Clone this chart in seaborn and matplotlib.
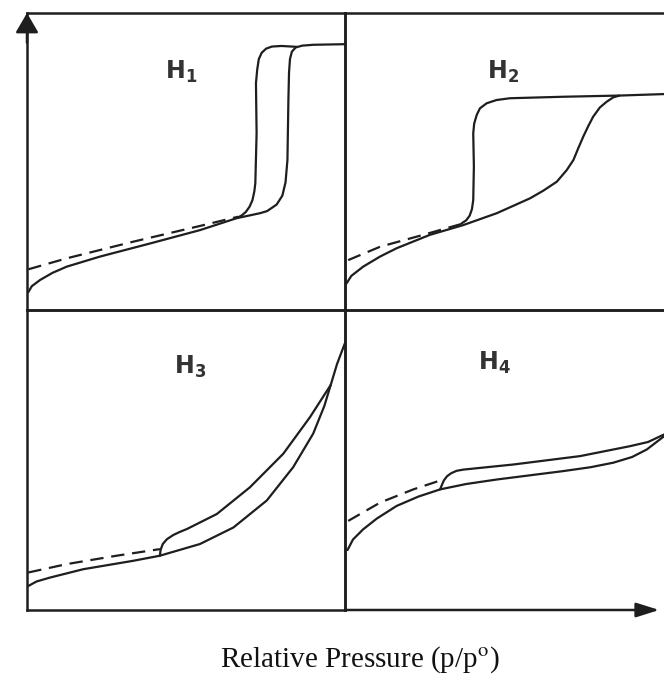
import matplotlib
matplotlib.use("Agg")
import matplotlib.pyplot as plt
import seaborn as sns

# IUPAC hysteresis loop types
# x = relative pressure (0-1), y = amount adsorbed (arbitrary, 0-1)

# H1
h1_ads_x = [0.004, 0.015, 0.041, 0.080, 0.125, 0.230, 0.387, 0.544, 0.659, 0.733,
            0.755, 0.785, 0.803, 0.813, 0.819, 0.822, 0.824, 0.827, 0.833, 0.845,
            0.865, 0.900, 1.000]
h1_ads_y = [0.060, 0.080, 0.101, 0.125, 0.146, 0.180, 0.224, 0.269, 0.309, 0.326,
            0.333, 0.355, 0.385, 0.430, 0.505, 0.707, 0.800, 0.845, 0.870, 0.884,
            0.890, 0.893, 0.895]
h1_des_x = [0.850, 0.800, 0.770, 0.752, 0.738, 0.729, 0.724, 0.720, 0.722, 0.718,
            0.715, 0.709, 0.700, 0.688, 0.676, 0.664]
h1_des_y = [0.886, 0.889, 0.887, 0.880, 0.866, 0.845, 0.810, 0.764, 0.595, 0.427,
            0.400, 0.370, 0.348, 0.330, 0.319, 0.312]
h1_dash_x = [0.004, 0.125, 0.334, 0.544, 0.664]
h1_dash_y = [0.137, 0.174, 0.230, 0.283, 0.314]

# H2
h2_ads_x = [0.005, 0.020, 0.057, 0.110, 0.162, 0.266, 0.371, 0.476, 0.580, 0.622,
            0.664, 0.695, 0.716, 0.731, 0.747, 0.763, 0.778, 0.799, 0.820, 0.841,
            0.860, 1.000]
h2_ads_y = [0.090, 0.115, 0.146, 0.180, 0.208, 0.253, 0.286, 0.326, 0.376, 0.402,
            0.432, 0.471, 0.505, 0.544, 0.584, 0.620, 0.651, 0.682, 0.701, 0.716,
            0.722, 0.727]
h2_des_x = [0.860, 0.684, 0.517, 0.475, 0.444, 0.423, 0.413, 0.405, 0.402, 0.404,
            0.402, 0.398, 0.391, 0.380, 0.366]
h2_des_y = [0.722, 0.718, 0.713, 0.707, 0.696, 0.679, 0.657, 0.628, 0.595, 0.483,
            0.370, 0.340, 0.318, 0.302, 0.292]
h2_dash_x = [0.010, 0.110, 0.245, 0.366]
h2_dash_y = [0.168, 0.213, 0.253, 0.290]

# H3
h3_ads_x = [0.004, 0.030, 0.072, 0.177, 0.334, 0.418, 0.544, 0.649, 0.754, 0.837,
            0.900, 0.935, 0.955, 0.975, 1.000]
h3_ads_y = [0.080, 0.095, 0.108, 0.136, 0.164, 0.181, 0.220, 0.275, 0.365, 0.476,
            0.588, 0.680, 0.750, 0.820, 0.890]
h3_des_x = [0.955, 0.890, 0.806, 0.701, 0.597, 0.503, 0.480, 0.460, 0.440, 0.427,
            0.420, 0.418]
h3_des_y = [0.750, 0.643, 0.521, 0.409, 0.320, 0.270, 0.260, 0.250, 0.236, 0.220,
            0.200, 0.181]
h3_dash_x = [0.004, 0.125, 0.282, 0.418]
h3_dash_y = [0.125, 0.153, 0.181, 0.203]

# H4
h4_ads_x = [0.008, 0.025, 0.057, 0.100, 0.162, 0.230, 0.298, 0.380, 0.476, 0.580,
            0.684, 0.770, 0.841, 0.900, 0.946, 1.000]
h4_ads_y = [0.200, 0.235, 0.269, 0.305, 0.347, 0.378, 0.402, 0.420, 0.435, 0.449,
            0.463, 0.476, 0.491, 0.510, 0.535, 0.579]
h4_des_x = [1.000, 0.950, 0.893, 0.737, 0.528, 0.371, 0.350, 0.333, 0.320, 0.310,
            0.303, 0.298]
h4_des_y = [0.585, 0.560, 0.546, 0.513, 0.485, 0.468, 0.464, 0.456, 0.446, 0.432,
            0.415, 0.402]
h4_dash_x = [0.010, 0.110, 0.214, 0.308]
h4_dash_y = [0.297, 0.358, 0.402, 0.435]

panel_labels = [r"$\mathbf{H_1}$", r"$\mathbf{H_2}$", r"$\mathbf{H_3}$", r"$\mathbf{H_4}$"]
x_label = r"Relative Pressure (p/p$^{\mathrm{o}}$)"

sns.set_style("white")
plt.rcParams["mathtext.fontset"] = "dejavusans"

INK = "#1e1e1e"
FRAME_LW = 1.8
CURVE_LW = 1.6

fig = plt.figure(figsize=(6.64, 6.80), dpi=100)

# panel rectangles in figure fraction (left, bottom, width, height)
xl, xm, xr = 27 / 664, 345 / 664, 1.0
yt, ym, yb = 1 - 13 / 680, 1 - 310 / 680, 1 - 610 / 680
rects = [
    (xl, ym, xm - xl, yt - ym),
    (xm, ym, xr - xm, yt - ym),
    (xl, yb, xm - xl, ym - yb),
    (xm, yb, xr - xm, ym - yb),
]
label_pos = [(0.484, 0.800), (0.495, 0.800), (0.513, 0.810), (0.467, 0.823)]

curves = [
    (h1_ads_x, h1_ads_y, h1_des_x, h1_des_y, h1_dash_x, h1_dash_y),
    (h2_ads_x, h2_ads_y, h2_des_x, h2_des_y, h2_dash_x, h2_dash_y),
    (h3_ads_x, h3_ads_y, h3_des_x, h3_des_y, h3_dash_x, h3_dash_y),
    (h4_ads_x, h4_ads_y, h4_des_x, h4_des_y, h4_dash_x, h4_dash_y),
]

axes = []
for i, rect in enumerate(rects):
    ax = fig.add_axes(rect)
    ax_x, ax_y, de_x, de_y, da_x, da_y = curves[i]
    sns.lineplot(x=ax_x, y=ax_y, ax=ax, sort=False, estimator=None,
                 color=INK, lw=CURVE_LW, solid_joinstyle="round")
    sns.lineplot(x=de_x, y=de_y, ax=ax, sort=False, estimator=None,
                 color=INK, lw=CURVE_LW, solid_joinstyle="round")
    sns.lineplot(x=da_x, y=da_y, ax=ax, sort=False, estimator=None,
                 color=INK, lw=CURVE_LW, linestyle=(0, (6, 3.5)))
    ax.set_xlim(0, 1)
    ax.set_ylim(0, 1)
    ax.set_xticks([])
    ax.set_yticks([])
    ax.set_xlabel("")
    ax.set_ylabel("")
    ax.set_facecolor("none")
    for s in ax.spines.values():
        s.set_linewidth(FRAME_LW)
        s.set_color(INK)
    ax.text(label_pos[i][0], label_pos[i][1], panel_labels[i], transform=ax.transAxes,
            ha="center", va="center", fontsize=17, color="#333333")
    axes.append(ax)

# no right border, bottom-right axis replaced by arrow
axes[1].spines["right"].set_visible(False)
axes[3].spines["right"].set_visible(False)
axes[3].spines["bottom"].set_visible(False)

axes[0].annotate("", xy=(0, 1.0), xytext=(0, 0.9), xycoords="axes fraction",
                 arrowprops=dict(arrowstyle="-|>,head_length=0.6,head_width=0.35",
                                 mutation_scale=20, color=INK, lw=FRAME_LW,
                                 shrinkA=0, shrinkB=0), annotation_clip=False)
axes[3].annotate("", xy=(0.985, 0), xytext=(0, 0), xycoords="axes fraction",
                 arrowprops=dict(arrowstyle="-|>,head_length=0.7,head_width=0.22",
                                 mutation_scale=20, color=INK, lw=FRAME_LW,
                                 shrinkA=0, shrinkB=0), annotation_clip=False)

plt.rcParams["mathtext.fontset"] = "stix"
fig.text(360 / 664, 1 - 667 / 680, x_label, ha="center", va="baseline",
         fontsize=21, family="Liberation Serif", color="#111111")

fig.savefig("out.png", dpi=100)
